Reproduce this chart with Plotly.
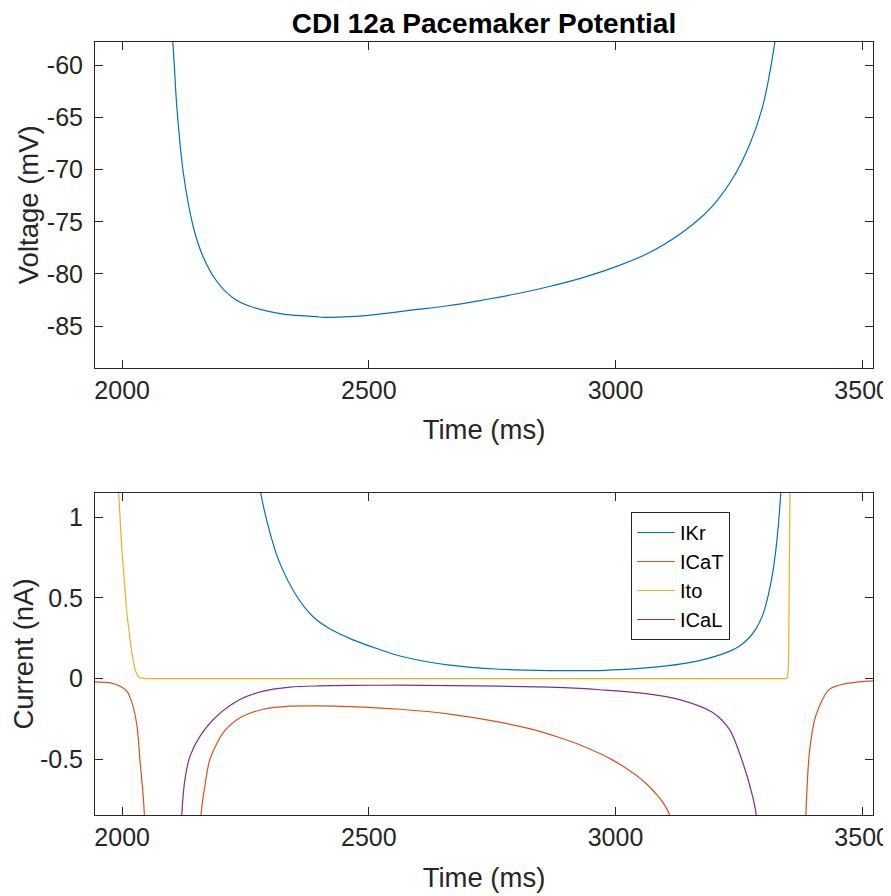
import plotly.graph_objects as go

# ---------------- data ----------------
# Top panel: membrane voltage
v_time = [2095, 2102.6, 2110.7, 2124, 2144, 2164.6, 2191.7, 2225, 2259, 2326.5, 2394, 2407, 2461,
          2522, 2590, 2660, 2725, 2800, 2866, 2934, 3001, 3069, 3136, 3180, 3204, 3237, 3271, 3298, 3323, 3330]
v_mv = [-55.0, -57.8, -63.9, -70.3, -75.45, -78.4, -80.7, -82.3, -83.1, -83.85, -84.1, -84.16, -84.1,
        -83.85, -83.45, -83.05, -82.55, -81.9, -81.2, -80.35, -79.3, -77.95, -76.0, -74.3, -73.1, -70.9,
        -67.7, -64.0, -57.8, -55.0]

# Bottom panel: currents
ikr_time = [2250, 2281, 2300, 2319, 2354, 2386, 2420, 2468, 2522, 2563, 2664, 2765, 2866, 2927, 2968,
            3062, 3163, 3231, 3251, 3270, 3285, 3298, 3310, 3320, 3328, 3335, 3345]
ikr_val = [2.0, 1.15, 0.9, 0.72, 0.51, 0.386, 0.31, 0.24, 0.18, 0.14, 0.083, 0.058, 0.05, 0.049, 0.05,
           0.066, 0.107, 0.169, 0.2, 0.25, 0.31, 0.39, 0.52, 0.68, 0.88, 1.15, 2.0]

icat_time = [1945, 1976, 1996, 2009.5, 2020, 2030, 2036, 2042, 2045, 2050,
             2155, 2160, 2168, 2178, 2205, 2239, 2286, 2340, 2400, 2462, 2563, 2664, 2765, 2832, 2883,
             2927, 2994.5, 3062, 3109, 3115,
             3380, 3386, 3393, 3406, 3433, 3467, 3511, 3522]
icat_val = [-0.02, -0.027, -0.047, -0.078, -0.15, -0.29, -0.5, -0.7, -0.84, -1.5,
            -1.5, -0.84, -0.66, -0.5, -0.335, -0.243, -0.19, -0.171, -0.169, -0.173, -0.19, -0.22, -0.27, -0.315, -0.362,
            -0.41, -0.505, -0.65, -0.84, -1.5,
            -1.5, -0.84, -0.46, -0.23, -0.068, -0.031, -0.016, -0.014]

ito_time = [1985, 1992.5, 1999, 2009.5, 2019.6, 2026, 2031, 2036, 2050, 2500, 3000, 3346, 3349, 3351, 3354, 3358]
ito_val = [1.6, 1.15, 0.817, 0.405, 0.159, 0.056, 0.02, 0.004, 0.0, 0.0, 0.0, 0.0, 0.01, 0.1, 1.3, 2.0]

ical_time = [2115, 2121, 2127.5, 2137.6, 2158, 2191.7, 2239, 2286, 2340, 2400, 2462, 2563, 2664,
             2765, 2866, 2927, 2968, 3062, 3130, 3197, 3231, 3258, 3278, 3285, 3292]
ical_val = [-1.5, -0.84, -0.62, -0.48, -0.356, -0.233, -0.13, -0.078, -0.053, -0.045, -0.042, -0.041, -0.044,
            -0.047, -0.053, -0.061, -0.069, -0.093, -0.13, -0.21, -0.315, -0.52, -0.73, -0.84, -1.5]

x_ticks = [2000, 2500, 3000, 3500]
x_tick_text = ["2000", "2500", "3000", "3500"]
v_ticks = [-85, -80, -75, -70, -65, -60]
v_tick_text = ["-85", "-80", "-75", "-70", "-65", "-60"]
i_ticks = [-0.5, 0, 0.5, 1]
i_tick_text = ["-0.5", "0", "0.5", "1"]

series_names = ["IKr", "ICaT", "Ito", "ICaL"]
series_colors = ["#0072BD", "#D95319", "#EDB120", "#7E2F8E"]
series_shapes = ["spline", "spline", "linear", "spline"]

# ---------------- figure ----------------
FONT = "Liberation Sans, Arial, Helvetica, sans-serif"
AX = "#262626"

fig = go.Figure()
fig.add_trace(go.Scatter(x=v_time, y=v_mv, mode="lines",
                         line=dict(color="#0072BD", width=1.2, shape="spline", smoothing=0.8),
                         xaxis="x", yaxis="y", showlegend=False))

for name, color, shape, t, v in zip(series_names, series_colors, series_shapes,
                                    [ikr_time, icat_time, ito_time, ical_time],
                                    [ikr_val, icat_val, ito_val, ical_val]):
    line = dict(color=color, width=1.2, shape=shape)
    if shape == "spline":
        line["smoothing"] = 0.8
    fig.add_trace(go.Scatter(x=t, y=v, mode="lines", name=name, line=line,
                             xaxis="x2", yaxis="y2"))

axis_common = dict(showline=True, linecolor=AX, linewidth=1, mirror="ticks", ticks="inside",
                   ticklen=8, tickcolor=AX, tickwidth=1, showgrid=False, zeroline=False,
                   automargin=False, tickfont=dict(family=FONT, size=25, color=AX))
title_font = dict(family=FONT, size=27.5, color=AX)

# the page body adds an 8px offset, so the figure is 8px smaller and margins shifted
fig.update_layout(
    template="none",
    width=883, height=888,
    margin=dict(l=87, r=18, t=34, b=81, autoexpand=False),
    paper_bgcolor="white", plot_bgcolor="white",
    title=dict(text="<b>CDI 12a Pacemaker Potential</b>", x=0.5, xref="paper", xanchor="center",
               y=1 - 15 / 888, yref="container", yanchor="middle",
               font=dict(family=FONT, size=28, color="black")),
    xaxis=dict(domain=[0, 1], anchor="y", range=[1945, 3522], tickvals=x_ticks, ticktext=x_tick_text,
               title=dict(text="Time (ms)", font=title_font, standoff=17),
               ticklabelstandoff=0, **axis_common),
    yaxis=dict(domain=[0.5789, 1], anchor="x", range=[-88.97, -57.76], tickvals=v_ticks, ticktext=v_tick_text,
               title=dict(text="Voltage (mV)", font=title_font, standoff=0),
               ticklabelstandoff=6, **axis_common),
    xaxis2=dict(domain=[0, 1], anchor="y2", range=[1945, 3522], tickvals=x_ticks, ticktext=x_tick_text,
                title=dict(text="Time (ms)", font=title_font, standoff=17),
                ticklabelstandoff=0, **axis_common),
    yaxis2=dict(domain=[0, 0.4166], anchor="x2", range=[-0.845, 1.15], tickvals=i_ticks, ticktext=i_tick_text,
                title=dict(text="Current (nA)", font=title_font, standoff=0),
                ticklabelstandoff=6, **axis_common),
    legend=dict(x=0.689, y=0.392, xanchor="left", yanchor="top", bgcolor="white",
                bordercolor=AX, borderwidth=1, font=dict(family=FONT, size=20, color="black"),
                tracegroupgap=0, itemwidth=38),
)

fig.write_html("out.html")
